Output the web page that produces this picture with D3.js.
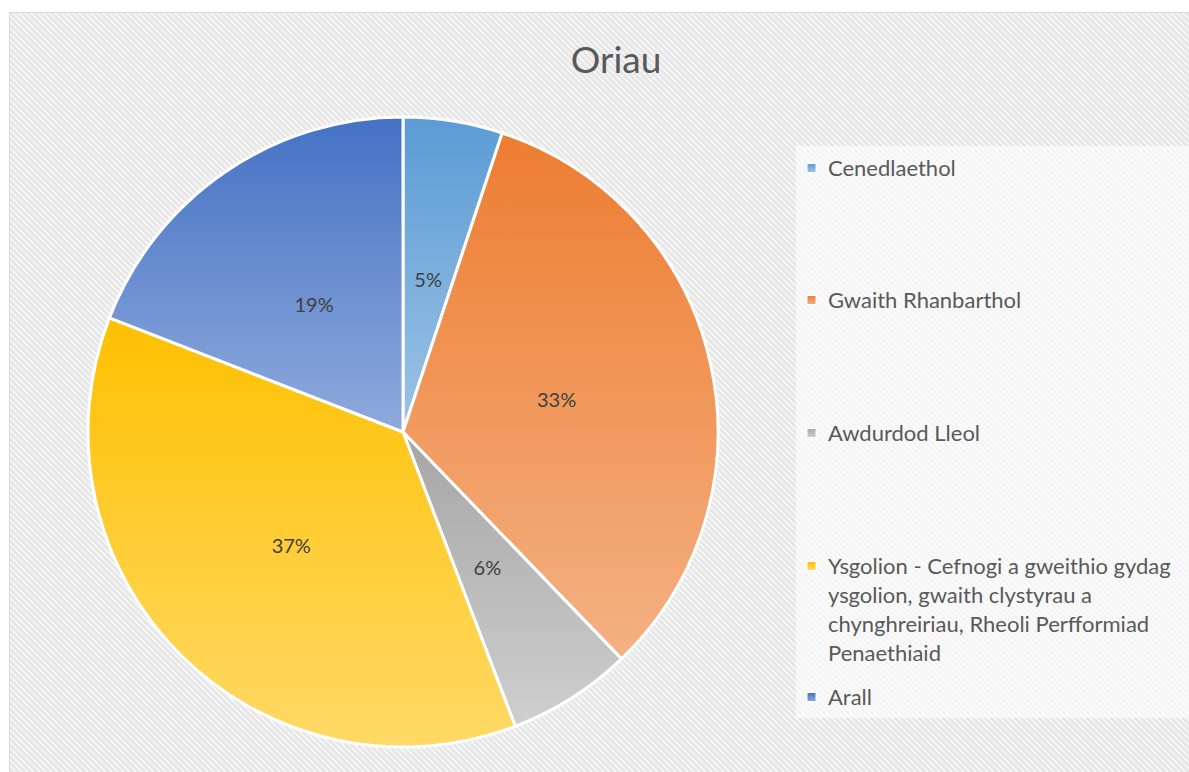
<!DOCTYPE html>
<html>
<head>
<meta charset="utf-8">
<script src="https://cdn.jsdelivr.net/npm/d3@7"></script>
<style>
html,body{margin:0;padding:0;background:#fff;}
svg{display:block;font-family:Lato,"Open Sans",sans-serif;}
</style>
</head>
<body>
<svg id="chart" width="1189" height="772"></svg>
<script>
const title = "Oriau";
const categories = ["Cenedlaethol","Gwaith Rhanbarthol","Awdurdod Lleol","Ysgolion - Cefnogi a gweithio gydag ysgolion, gwaith clystyrau a chynghreiriau, Rheoli Perfformiad Penaethiaid","Arall"];
const values = [5.1, 32.7, 6.4, 36.7, 19.1];
const labels = ["5%","33%","6%","37%","19%"];
const legendLines = [["Cenedlaethol"],["Gwaith Rhanbarthol"],["Awdurdod Lleol"],["Ysgolion - Cefnogi a gweithio gydag","ysgolion, gwaith clystyrau a","chynghreiriau, Rheoli Perfformiad","Penaethiaid"],["Arall"]];
const topColors = ["#5b9bd5","#ed7d31","#a5a5a5","#ffc000","#4472c4"];
const bottomColors = ["#9dc3e6","#f4b183","#cfcfcf","#ffd966","#8faadc"];

const svg = d3.select("#chart");
const defs = svg.append("defs");
const pat = defs.append("pattern").attr("id","stripes").attr("patternUnits","userSpaceOnUse")
  .attr("width",6).attr("height",6);
pat.append("rect").attr("width",6).attr("height",6).attr("fill","#e6e6e6");
pat.append("path").attr("d","M-1,-1 L7,7 M-1,5 L1,7 M5,-1 L7,1").attr("stroke","#f7f7f7").attr("stroke-width",1.6);

categories.forEach((c,i)=>{
  const g = defs.append("linearGradient").attr("id","g"+i).attr("x1",0).attr("y1",0).attr("x2",0).attr("y2",1);
  g.append("stop").attr("offset","0%").attr("stop-color",topColors[i]);
  g.append("stop").attr("offset","100%").attr("stop-color",bottomColors[i]);
});

svg.append("rect").attr("x",9.5).attr("y",12.5).attr("width",1200).attr("height",800)
  .attr("fill","url(#stripes)").attr("stroke","#d9d9d9").attr("stroke-width",1);

svg.append("text").attr("x",616).attr("y",73).attr("text-anchor","middle")
  .attr("font-size",37).attr("fill","#595959").text(title);

const cx = 403, cy = 432, R = 315;
const pie = d3.pie().sort(null).value(d=>d);
const arcs = pie(values);
const arc = d3.arc().innerRadius(0).outerRadius(R);
const labelArc = d3.arc().innerRadius(R*0.5).outerRadius(R*0.5);
const gp = svg.append("g").attr("transform",`translate(${cx},${cy})`);
gp.selectAll("path").data(arcs).join("path")
  .attr("d",arc).attr("fill",(d,i)=>`url(#g${i})`)
  .attr("stroke","#fff").attr("stroke-width",3).attr("stroke-linejoin","round");
gp.selectAll("text").data(arcs).join("text")
  .attr("transform",d=>`translate(${labelArc.centroid(d)})`)
  .attr("text-anchor","middle").attr("dy","0.5em")
  .attr("font-size",20).attr("fill","#404040")
  .text((d,i)=>labels[i]);

// legend
svg.append("rect").attr("x",796).attr("y",146).attr("width",400).attr("height",572)
  .attr("fill","#ffffff").attr("fill-opacity",0.6);
const legendY = [168,300,433,566,697];
const lg = svg.append("g");
categories.forEach((c,i)=>{
  lg.append("rect").attr("x",807).attr("y",legendY[i]-4.5).attr("width",9).attr("height",9)
    .attr("fill",`url(#g${i})`).attr("stroke","#fff").attr("stroke-width",1);
  const t = lg.append("text").attr("x",828).attr("y",legendY[i])
    .attr("font-size",22).attr("fill","#595959");
  legendLines[i].forEach((ln,j)=>{
    t.append("tspan").attr("x",828).attr("dy", j===0 ? "0.36em" : "29px").text(ln);
  });
});
</script>
</body>
</html>
